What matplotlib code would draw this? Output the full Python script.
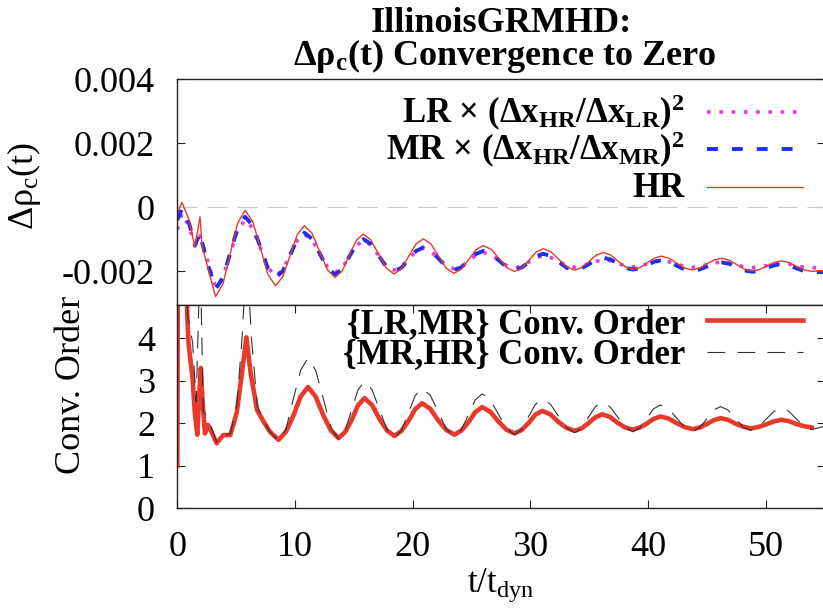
import numpy as np
import matplotlib.pyplot as plt
from matplotlib.lines import Line2D

plt.rcParams['font.family'] = 'Liberation Serif'
plt.rcParams['mathtext.fontset'] = 'custom'
plt.rcParams['mathtext.rm'] = 'Liberation Serif'
plt.rcParams['mathtext.it'] = 'Liberation Serif'
plt.rcParams['mathtext.bf'] = 'Liberation Serif:bold'
plt.rcParams['axes.unicode_minus'] = False

# --------------
# data: top panel, delta rho_c (units of 1e-3)
# --------------
t_top = [0.0, 0.4, 1.0, 1.5, 1.93, 2.1, 2.6, 3.25,
         3.88, 4.5, 5.13, 5.76, 6.41, 7.06, 7.7, 8.35,
         8.96, 9.58, 10.19, 10.8, 11.45, 12.1, 12.75, 13.4,
         14.0, 14.6, 15.2, 15.8, 16.45, 17.1, 17.75, 18.4,
         19.03, 19.65, 20.28, 20.9, 21.55, 22.2, 22.85, 23.5,
         24.13, 24.75, 25.38, 26.0, 26.66, 27.33, 27.99, 28.65,
         29.26, 29.88, 30.49, 31.1, 31.76, 32.43, 33.09, 33.75,
         34.36, 34.98, 35.59, 36.2, 36.83, 37.45, 38.08, 38.7,
         39.31, 39.93, 40.54, 41.15, 41.79, 42.43, 43.06, 43.7,
         44.34, 44.98, 45.61, 46.25, 46.9, 47.55, 48.2, 48.85,
         49.46, 50.08, 50.69, 51.3, 51.95, 52.6, 53.25, 53.9,
         55.0]

hr = [-0.2, 0.15, -0.4, -1.25, -0.3, -1.2, -1.9, -2.8,
      -2.4, -1.45, -0.5, -0.1, -0.45, -1.28, -2.11, -2.46,
      -2.18, -1.52, -0.86, -0.58, -0.82, -1.39, -1.96, -2.2,
      -2.0, -1.52, -1.04, -0.84, -1.03, -1.47, -1.9, -2.09,
      -1.93, -1.54, -1.15, -0.99, -1.15, -1.53, -1.91, -2.07,
      -1.94, -1.64, -1.33, -1.2, -1.32, -1.6, -1.89, -2.01,
      -1.91, -1.66, -1.4, -1.3, -1.4, -1.64, -1.87, -1.97,
      -1.89, -1.7, -1.5, -1.42, -1.5, -1.69, -1.87, -1.95,
      -1.89, -1.74, -1.59, -1.53, -1.6, -1.75, -1.9, -1.96,
      -1.91, -1.78, -1.65, -1.6, -1.66, -1.8, -1.94, -2.0,
      -1.95, -1.84, -1.73, -1.68, -1.73, -1.85, -1.96, -2.01,
      -1.98]

mr = [-0.4, -0.05, -0.5, -1.2, -0.8, -1.1, -1.8, -2.55,
      -2.22, -1.43, -0.63, -0.3, -0.58, -1.25, -1.92, -2.2,
      -2.0, -1.5, -1.0, -0.8, -0.99, -1.45, -1.91, -2.1,
      -1.94, -1.55, -1.16, -1.0, -1.15, -1.51, -1.86, -2.01,
      -1.9, -1.64, -1.37, -1.26, -1.36, -1.61, -1.86, -1.96,
      -1.88, -1.67, -1.46, -1.37, -1.46, -1.67, -1.88, -1.96,
      -1.89, -1.71, -1.53, -1.46, -1.53, -1.72, -1.9, -1.97,
      -1.91, -1.78, -1.64, -1.58, -1.64, -1.77, -1.9, -1.95,
      -1.91, -1.81, -1.7, -1.66, -1.71, -1.83, -1.94, -1.99,
      -1.95, -1.86, -1.77, -1.73, -1.77, -1.88, -1.98, -2.02,
      -1.99, -1.9, -1.82, -1.78, -1.82, -1.91, -2.0, -2.04,
      -2.03]

lr = [-0.7, -0.2, -0.6, -1.2, -0.9, -1.1, -1.7, -2.5,
      -2.19, -1.45, -0.71, -0.4, -0.66, -1.28, -1.89, -2.15,
      -1.96, -1.5, -1.04, -0.85, -1.03, -1.45, -1.87, -2.05,
      -1.9, -1.55, -1.2, -1.05, -1.18, -1.51, -1.84, -1.97,
      -1.87, -1.63, -1.38, -1.28, -1.38, -1.61, -1.84, -1.93,
      -1.86, -1.68, -1.5, -1.42, -1.49, -1.66, -1.83, -1.9,
      -1.84, -1.71, -1.58, -1.52, -1.58, -1.7, -1.83, -1.88,
      -1.85, -1.77, -1.69, -1.65, -1.68, -1.76, -1.84, -1.87,
      -1.84, -1.78, -1.71, -1.68, -1.71, -1.78, -1.85, -1.88,
      -1.86, -1.8, -1.74, -1.72, -1.75, -1.81, -1.87, -1.89,
      -1.87, -1.83, -1.78, -1.76, -1.78, -1.83, -1.88, -1.9,
      -1.9]

# --------------
# data: bottom panel, convergence order
# --------------
t_late = [8.6, 9.23, 9.85, 10.48, 11.1, 11.75, 12.4, 13.05, 13.7,
          14.25, 14.8, 15.35, 15.9, 16.54, 17.18, 17.81, 18.45,
          19.04, 19.63, 20.21, 20.8, 21.49, 22.18, 22.86, 23.55,
          24.14, 24.73, 25.31, 25.9, 26.59, 27.28, 27.96, 28.65,
          29.24, 29.83, 30.41, 31.0, 31.69, 32.38, 33.07, 33.76,
          34.35, 34.93, 35.52, 36.1, 36.75, 37.4, 38.05, 38.7,
          39.29, 39.88, 40.46, 41.05, 41.74, 42.43, 43.11, 43.8,
          44.39, 44.98, 45.56, 46.15, 46.79, 47.43, 48.06, 48.7,
          49.35, 50.0, 50.65, 51.3, 51.95, 52.6, 53.25, 53.9]

t_lm = [0.0, 0.05, 0.75, 0.85, 0.95, 1.14, 1.3, 1.5, 1.7, 1.85, 2.0,
        2.15, 2.35, 2.6, 2.9, 3.35, 3.9, 4.5, 5.05, 5.5, 5.87, 6.23,
        6.78, 7.33, 7.87] + t_late
ord_lm = [1.0, 6.0, 6.0, 4.5, 3.9, 3.42, 3.05, 2.2, 1.73, 2.6, 3.3,
          2.5, 1.76, 1.96, 1.8, 1.53, 1.72, 1.72, 2.25, 3.2, 4.02, 3.18,
          2.31, 2.04, 1.8,
          1.61, 1.80, 2.17, 2.63, 2.85, 2.63, 2.19, 1.83, 1.65,
          1.79, 2.07, 2.42, 2.59, 2.43, 2.10, 1.83, 1.70,
          1.82, 2.05, 2.33, 2.47, 2.34, 2.06, 1.84, 1.73,
          1.83, 2.02, 2.26, 2.38, 2.27, 2.04, 1.85, 1.76,
          1.84, 2.00, 2.20, 2.29, 2.21, 2.03, 1.89, 1.82,
          1.88, 2.00, 2.14, 2.21, 2.15, 2.01, 1.90, 1.85,
          1.90, 1.99, 2.10, 2.16, 2.11, 2.00, 1.91, 1.86,
          1.90, 1.98, 2.07, 2.12, 2.08, 1.99, 1.92, 1.88,
          1.91, 1.97, 2.04, 2.08, 2.05, 1.98, 1.93, 1.90]

t_mh = [0.0, 0.6, 0.9, 1.3, 1.6, 1.95, 2.2, 2.6, 2.9, 3.35, 3.9, 4.5,
        5.05, 5.5, 5.9, 6.3, 6.8, 7.33, 7.87] + t_late + [55.0]
ord_mh = [6.0, 6.0, 4.5, 3.9, 2.5, 6.0, 2.3, 2.1, 1.9, 1.55, 1.72, 1.75,
          2.4, 4.0, 6.0, 4.0, 2.4, 2.06, 1.8,
          1.58, 1.86, 2.56, 3.25, 3.53, 3.25, 2.58, 1.90, 1.62,
          1.82, 2.30, 2.78, 2.98, 2.79, 2.32, 1.85, 1.66,
          1.83, 2.24, 2.65, 2.82, 2.66, 2.26, 1.86, 1.70,
          1.85, 2.20, 2.55, 2.69, 2.55, 2.21, 1.87, 1.73,
          1.85, 2.15, 2.44, 2.56, 2.45, 2.17, 1.89, 1.78,
          1.88, 2.14, 2.39, 2.49, 2.39, 2.15, 1.90, 1.80,
          1.89, 2.12, 2.34, 2.43, 2.34, 2.12, 1.90, 1.81,
          1.90, 2.10, 2.31, 2.39, 2.31, 2.11, 1.91, 1.83,
          1.91, 2.09, 2.27, 2.35, 2.28, 2.10, 1.92, 1.85,
          1.93]

x_ticks = [0, 10, 20, 30, 40, 50]
top_ticks = [-0.002, 0, 0.002, 0.004]
top_tick_labels = ['-0.002', '0', '0.002', '0.004']
bot_ticks = [0, 1, 2, 3, 4]

lab_lr = r'LR × (Δ$\mathbf{x}_\mathbf{HR}$/Δ$\mathbf{x}_\mathbf{LR}\mathbf{)}^\mathbf{2}$'
lab_mr = r'MR × (Δ$\mathbf{x}_\mathbf{HR}$/Δ$\mathbf{x}_\mathbf{MR}\mathbf{)}^\mathbf{2}$'
lab_hr = 'HR'
lab_lm = '{LR,MR} Conv. Order'
lab_mh = '{MR,HR} Conv. Order'

RED = '#e8392b'
BLUE = '#1f2fe6'
MAG = '#e040e0'

# --------------
# figure layout (pixel based)
# --------------
W, H = 823, 608
fig = plt.figure(figsize=(W / 100, H / 100), dpi=100)

def box(x0, y0, x1, y1):
    return [x0 / W, 1 - y1 / H, (x1 - x0) / W, (y1 - y0) / H]

ax1 = fig.add_axes(box(177.3, 79.3, 824.7, 305))
ax2 = fig.add_axes(box(177.3, 305, 824.7, 508.3))

for ax in (ax1, ax2):
    for s in ax.spines.values():
        s.set_linewidth(1.0)
        s.set_color('#222222')
    ax.set_xlim(0, 55)
    ax.tick_params(direction='in', length=5.5, width=0.8, color='#222222',
                   labelsize=26, pad=16, left=True, right=True)

# top panel
ax1.axhline(0, color='#c8c8c8', lw=0.8, dashes=(18, 9))
ax1.plot(t_top, np.array(lr) * 1e-3, color=MAG, lw=2.6, dashes=(1, 2.4),
         dash_capstyle='butt')
ax1.plot(t_top, np.array(mr) * 1e-3, color=BLUE, lw=2.8, dashes=(2.8, 3.6),
         dash_capstyle='butt')
ax1.plot(t_top, np.array(hr) * 1e-3, color=RED, lw=1.0)
ax1.set_ylim(-0.00306, 0.004)
ax1.set_yticks(top_ticks)
ax1.set_yticklabels(top_tick_labels)
ax1.set_xticks(x_ticks)
ax1.tick_params(axis='x', bottom=False, top=False, labelbottom=False)
ax1.set_ylabel(r'Δ$ρ_c$(t)', fontsize=26)
ax1.yaxis.set_label_coords(-0.2075, 0.527)

# bottom panel
ax2.plot(t_lm, ord_lm, color=RED, lw=3.3)
ax2.plot(t_mh, ord_mh, color='#333333', lw=0.8, dashes=(16, 11))
ax2.set_ylim(0, 4.78)
ax2.set_yticks(bot_ticks)
ax2.set_xticks(x_ticks)
ax2.tick_params(axis='x', top=True, bottom=True)
ax2.set_ylabel('Conv. Order', fontsize=26)
ax2.yaxis.set_label_coords(-0.138, 0.607)
ax2.set_xlabel(r't/t$_\mathrm{dyn}$', fontsize=25)
ax2.xaxis.set_label_coords(0.5, -0.285)

# title
fig.text(501 / W, 1 - 31.7 / H, 'IllinoisGRMHD:', ha='center', va='baseline',
         fontsize=26, fontweight='bold')
fig.text(505 / W, 1 - 65 / H, r'Δ$\mathbf{ρ}_\mathbf{c}$(t) Convergence to Zero',
         ha='center', va='baseline', fontsize=26, fontweight='bold')

# key, top and bottom panel
key_top = [(lab_lr, 123.3, 111.7, dict(color=MAG, lw=2.6, dashes=(1, 2.4), dash_capstyle='butt')),
           (lab_mr, 160.0, 149.3, dict(color=BLUE, lw=2.8, dashes=(2.8, 3.6), dash_capstyle='butt')),
           (lab_hr, 196.7, 186.7, dict(color=RED, lw=1.0))]
key_bot = [(lab_lm, 333.0, 320.0, dict(color=RED, lw=3.3)),
           (lab_mh, 363.3, 351.7, dict(color='#333333', lw=0.8, dashes=(16, 11)))]
for lab, yb, ys, sty in key_top + key_bot:
    fig.text(685 / W, 1 - yb / H, lab, ha='right', va='baseline',
             fontsize=25, fontweight='bold')
    fig.add_artist(Line2D([707 / W, 803 / W], [1 - ys / H, 1 - ys / H], **sty))

fig.savefig('out.png', dpi=100)
